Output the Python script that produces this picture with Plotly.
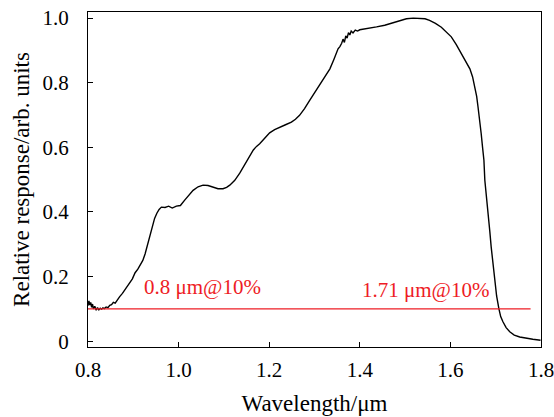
import plotly.graph_objects as go

# Relative spectral response
wavelength = [0.800, 0.802, 0.804, 0.806, 0.808, 0.810, 0.812, 0.815, 0.818, 0.821,
              0.824, 0.827, 0.830, 0.833, 0.836, 0.840, 0.844, 0.848, 0.852, 0.856,
              0.860, 0.865, 0.870, 0.876, 0.882, 0.888, 0.892, 0.898, 0.904, 0.910,
              0.916, 0.921, 0.926, 0.932, 0.936, 0.940, 0.944, 0.947, 0.952, 0.957,
              0.962, 0.970, 0.978, 0.986, 0.995, 1.004, 1.013, 1.022, 1.032, 1.043,
              1.054, 1.065, 1.076, 1.087, 1.098, 1.106, 1.113, 1.119, 1.124, 1.135,
              1.145, 1.155, 1.165, 1.172, 1.179, 1.190, 1.201, 1.212, 1.223, 1.236,
              1.249, 1.258, 1.267, 1.278, 1.289, 1.300, 1.311, 1.322, 1.334, 1.343,
              1.352, 1.356, 1.360, 1.363, 1.366, 1.369, 1.372, 1.375, 1.378, 1.381,
              1.385, 1.390, 1.395, 1.400, 1.410, 1.420, 1.437, 1.455, 1.473, 1.488,
              1.503, 1.518, 1.532, 1.544, 1.554, 1.567, 1.580, 1.591, 1.602, 1.613,
              1.624, 1.634, 1.643, 1.649, 1.654, 1.658, 1.661, 1.665, 1.668, 1.671,
              1.674, 1.676, 1.680, 1.683, 1.687, 1.690, 1.694, 1.698, 1.702, 1.707,
              1.711, 1.716, 1.723, 1.731, 1.741, 1.753, 1.767, 1.782, 1.799]
response = [0.110, 0.125, 0.112, 0.120, 0.105, 0.115, 0.100, 0.108, 0.096, 0.104,
            0.097, 0.102, 0.099, 0.103, 0.101, 0.106, 0.104, 0.111, 0.113, 0.120,
            0.118, 0.130, 0.138, 0.148, 0.160, 0.172, 0.180, 0.193, 0.212, 0.223,
            0.238, 0.250, 0.270, 0.300, 0.325, 0.343, 0.365, 0.380, 0.396, 0.408,
            0.415, 0.414, 0.418, 0.412, 0.418, 0.420, 0.436, 0.452, 0.467, 0.478,
            0.483, 0.482, 0.477, 0.472, 0.472, 0.476, 0.483, 0.490, 0.498, 0.520,
            0.545, 0.570, 0.592, 0.603, 0.611, 0.628, 0.645, 0.655, 0.663, 0.670,
            0.678, 0.687, 0.699, 0.720, 0.745, 0.768, 0.792, 0.817, 0.843, 0.873,
            0.905, 0.912, 0.922, 0.935, 0.925, 0.945, 0.938, 0.955, 0.948, 0.960,
            0.954, 0.963, 0.960, 0.964, 0.966, 0.969, 0.973, 0.978, 0.985, 0.993,
            0.998, 1.000, 1.000, 0.998, 0.993, 0.984, 0.972, 0.958, 0.942, 0.918,
            0.889, 0.866, 0.843, 0.818, 0.787, 0.758, 0.725, 0.685, 0.642, 0.600,
            0.560, 0.498, 0.446, 0.395, 0.340, 0.292, 0.240, 0.189, 0.140, 0.101,
            0.076, 0.060, 0.042, 0.029, 0.019, 0.013, 0.009, 0.006, 0.003]

threshold_x = [0.8, 1.777]
threshold_y = [0.1, 0.1]

x_ticks = [0.8, 1.0, 1.2, 1.4, 1.6, 1.8]
y_ticks = [0, 0.2, 0.4, 0.6, 0.8, 1.0]
y_ticktext = ["0", "0.2", "0.4", "0.6", "0.8", "1.0"]

labels = ["0.8 μm@10%", "1.71 μm@10%"]
label_x = [1.052, 1.545]
label_y = [0.168, 0.158]

FONT = "Liberation Serif"

fig = go.Figure()
fig.add_trace(go.Scatter(x=wavelength, y=response, mode="lines",
                         line=dict(color="black", width=1.4), showlegend=False))
fig.add_trace(go.Scatter(x=threshold_x, y=threshold_y, mode="lines",
                         line=dict(color="#ee1c25", width=1.4), showlegend=False))

for t, lx, ly in zip(labels, label_x, label_y):
    fig.add_annotation(x=lx, y=ly, text=t, showarrow=False,
                       xanchor="center", yanchor="middle",
                       font=dict(family=FONT, size=21, color="#ee1c25"))

fig.update_layout(
    width=554, height=417,
    margin=dict(l=88, r=13, t=12, b=70),
    paper_bgcolor="white", plot_bgcolor="white",
    font=dict(family=FONT, size=21, color="black"),
    showlegend=False,
)
fig.update_xaxes(range=[0.8, 1.8], tickvals=x_ticks, tickformat=".1f",
                 ticks="inside", ticklen=5, tickwidth=1.2, tickcolor="black",
                 showline=True, linecolor="black", linewidth=1.2, mirror=True,
                 showgrid=False, zeroline=False, ticklabelstandoff=4, automargin=False,
                 ticklabeloverflow="allow",
                 title=dict(text="Wavelength/μm", font=dict(size=23), standoff=13))
fig.update_yaxes(range=[-0.018, 1.019], tickvals=y_ticks, ticktext=y_ticktext,
                 ticks="inside", ticklen=5, tickwidth=1.2, tickcolor="black",
                 showline=True, linecolor="black", linewidth=1.2, mirror=True,
                 showgrid=False, zeroline=False, ticklabelstandoff=14, automargin=False,
                 title=dict(text="Relative response/arb. units", font=dict(size=23), standoff=6))

fig.write_html("out.html", config={"displayModeBar": False},
               post_script="document.body.style.margin='0';")
